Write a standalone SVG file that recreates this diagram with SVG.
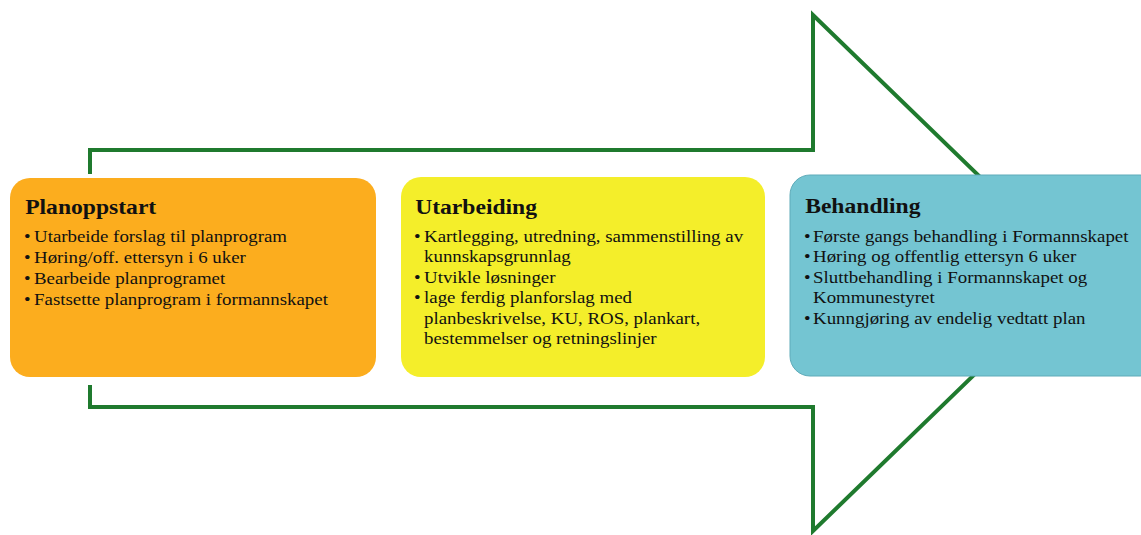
<svg xmlns="http://www.w3.org/2000/svg" width="1141" height="535" viewBox="0 0 1141 535">
<style>
.bg{fill:#ffffff}
.arrow{fill:none;stroke:#1f7a2e;stroke-width:4;stroke-linejoin:miter}
.title{font-family:"Liberation Serif","Times New Roman",serif;font-weight:bold;font-size:20px;fill:#111}
.item{font-family:"Liberation Serif","Times New Roman",serif;font-size:16px;fill:#111}
</style>
<rect class="bg" x="0" y="0" width="1141" height="535"/>
<g id="connectors">
<path class="arrow" d="M90,174 L90,150 L813,150 L813,15 L1079,273 L813,531 L813,407 L90,407 L90,385"/>
</g>
<g id="planoppstart">
<rect x="10" y="178" width="366" height="199" rx="20" ry="20" fill="#fcad1e"/>
<g transform="translate(24,0) scale(1.18,1)">
<text class="title" x="1" y="214">Planoppstart</text>
<text class="item" x="0" y="242">•</text><text class="item" x="8.5" y="242">Utarbeide forslag til planprogram</text>
<text class="item" x="0" y="263">•</text><text class="item" x="8.5" y="263">Høring/off. ettersyn i 6 uker</text>
<text class="item" x="0" y="284">•</text><text class="item" x="8.5" y="284">Bearbeide planprogramet</text>
<text class="item" x="0" y="305">•</text><text class="item" x="8.5" y="305">Fastsette planprogram i formannskapet</text>
</g>
</g>
<g id="utarbeiding">
<rect x="401" y="177" width="364" height="200" rx="20" ry="20" fill="#f4ee2a"/>
<g transform="translate(414,0) scale(1.18,1)">
<text class="title" x="1" y="214">Utarbeiding</text>
<text class="item" x="0" y="242">•</text><text class="item" x="8.5" y="242">Kartlegging, utredning, sammenstilling av</text>
<text class="item" x="8.5" y="262.5">kunnskapsgrunnlag</text>
<text class="item" x="0" y="283">•</text><text class="item" x="8.5" y="283">Utvikle løsninger</text>
<text class="item" x="0" y="303.5">•</text><text class="item" x="8.5" y="303.5">lage ferdig planforslag med</text>
<text class="item" x="8.5" y="324">planbeskrivelse, KU, ROS, plankart,</text>
<text class="item" x="8.5" y="344.5">bestemmelser og retningslinjer</text>
</g>
</g>
<g id="behandling">
<rect x="790" y="175" width="370" height="201" rx="20" ry="20" fill="#74c5d2" stroke="#5fabb9" stroke-width="1"/>
<g transform="translate(804,0) scale(1.18,1)">
<text class="title" x="1" y="213">Behandling</text>
<text class="item" x="0" y="242">•</text><text class="item" x="7.7" y="242">Første gangs behandling i Formannskapet</text>
<text class="item" x="0" y="262.5">•</text><text class="item" x="7.7" y="262.5">Høring og offentlig ettersyn 6 uker</text>
<text class="item" x="0" y="283">•</text><text class="item" x="7.7" y="283">Sluttbehandling i Formannskapet og</text>
<text class="item" x="7.7" y="303.5">Kommunestyret</text>
<text class="item" x="0" y="324">•</text><text class="item" x="7.7" y="324">Kunngjøring av endelig vedtatt plan</text>
</g>
</g>
</svg>
